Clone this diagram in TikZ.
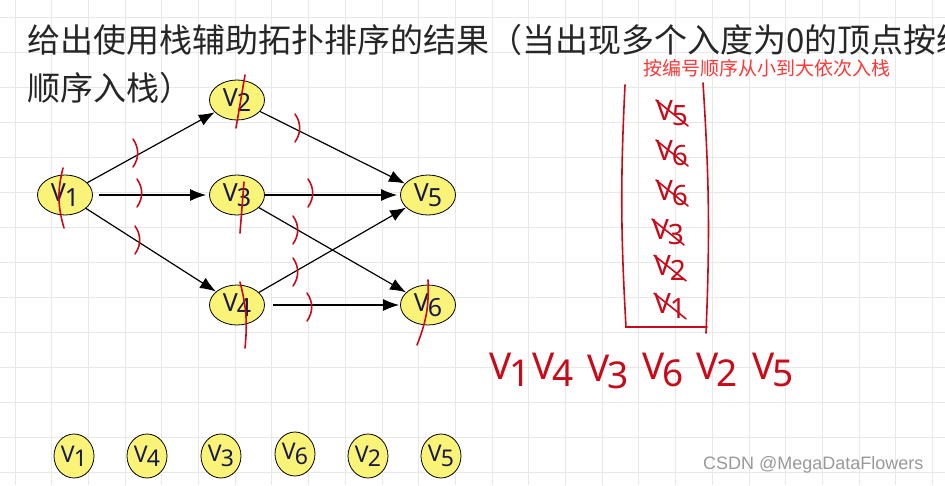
\documentclass[tikz,border=0pt]{standalone}
\usepackage{fontspec}
\setmainfont{Noto Sans}
\newfontfamily\cjk{Noto Sans CJK SC}
\newfontfamily\wmfont{Liberation Sans}
\usetikzlibrary{arrows.meta,shapes.geometric}
\definecolor{gridc}{RGB}{232,232,232}
\definecolor{nodefill}{RGB}{249,243,120}
\definecolor{navy}{RGB}{25,25,75}
\definecolor{pen}{RGB}{200,10,25}
\definecolor{capred}{RGB}{255,55,55}
\newcommand\vlab[1]{V\kern-0.04em\raisebox{-0.35ex}{#1}}
\newcommand\tk[2]{\draw[redpen] (#1-2,#2-14) to[bend left=35] (#1-2,#2+14);}
\begin{document}
\begin{tikzpicture}[x=1pt,y=-1pt,
  vnode/.style={ellipse,draw=black,line width=0.8pt,fill=nodefill,inner sep=0pt,
    minimum width=55pt,minimum height=40pt,text=navy,font=\fontsize{25}{25}\selectfont},
  bnode/.style={vnode,minimum width=40pt,minimum height=44pt,font=\fontsize{23}{23}\selectfont},
  arr/.style={draw=black,line width=1.2pt,-{Latex[length=16pt,width=12pt]}},
  redpen/.style={draw=pen,line width=1.6pt,line cap=round},
  stackitem/.style={text=pen,font=\fontsize{28}{28}\selectfont,inner sep=0pt},
  resitem/.style={text=pen,font=\fontsize{37}{37}\selectfont,inner sep=0pt}]
\useasboundingbox (0,0) rectangle (945,485);
\begin{scope}
\clip (0,0) rectangle (945,485);
\fill[white] (0,0) rectangle (945,485);
\foreach \i in {0,...,25} \draw[gridc,line width=1pt] (15+36.7*\i,0) -- (15+36.7*\i,485);
\foreach \j in {0,...,13} \draw[gridc,line width=1pt] (0,17+35*\j) -- (945,17+35*\j);
% title
\node[anchor=west,inner sep=0pt,font=\cjk\fontsize{33}{33}\selectfont,text=black!85] (t1) at (27,40)
  {给出使用栈辅助拓扑排序的结果（当出现多个入度为0的顶点按编};
\end{scope}
\node[anchor=west,inner sep=0pt,font=\cjk\fontsize{33}{33}\selectfont,text=black!85] (t2) at (27,88)
  {顺序入栈）};
\node[anchor=west,inner sep=0pt,font=\cjk\fontsize{19}{19}\selectfont,text=capred] (cap) at (643,68)
  {按编号顺序从小到大依次入栈};
% graph
\node[vnode] (v1) at (65,195) {\vlab{1}};
\node[vnode] (v2) at (237,100) {\vlab{2}};
\node[vnode] (v3) at (237,195) {\vlab{3}};
\node[vnode] (v4) at (237,305) {\vlab{4}};
\node[vnode] (v5) at (428,195) {\vlab{5}};
\node[vnode] (v6) at (428,305) {\vlab{6}};
\draw[arr] (v1) -- (v2);
\draw[arr,shorten <=6pt,shorten >=3pt] (v1) -- (v3);
\draw[arr] (v1) -- (v4);
\draw[arr] (v2) -- (v5);
\draw[arr,shorten >=3pt] (v3) -- (v5);
\draw[arr] (v3) -- (v6);
\draw[arr] (v4) -- (v5);
\draw[arr,shorten <=8pt,shorten >=1pt] (v4) -- (v6);
% red ticks on edges
\tk{135}{153}
\tk{139}{193}
\tk{137}{240}
\tk{297}{128}
\tk{310}{193}
\tk{295}{230}
\tk{295}{272}
\tk{309}{307}
% red strikes through nodes
\draw[redpen] (63,168) to[bend right=15] (64,228);
\draw[redpen] (245,75) -- (236,128);
\draw[redpen] (244,182) -- (240,233);
\draw[redpen] (240,282) to[bend left=10] (245,348);
\draw[redpen] (428,280) to[bend left=12] (417,345);
% stack
\draw[redpen] (625,85) to[bend right=3] (626,327) -- (707,327);
\draw[redpen] (703,83) to[bend left=3] (706,333);
\node[stackitem] (s5) at (672,113) {\vlab{5}};
\node[stackitem] (s6a) at (672,153) {\vlab{6}};
\node[stackitem] (s6b) at (672,193) {\vlab{6}};
\node[stackitem] (s3) at (668,232) {\vlab{3}};
\node[stackitem] (s2) at (670,268) {\vlab{2}};
\node[stackitem] (s1) at (670,306) {\vlab{1}};
\draw[redpen] (s5.north west) -- (s5.south east);
\draw[redpen] (s6a.north west) -- (s6a.south east);
\draw[redpen] (s6b.north west) -- (s6b.south east);
\draw[redpen] (s3.north west) -- (s3.south east);
\draw[redpen] (s2.north west) -- (s2.south east);
\draw[redpen] (s1.north west) -- (s1.south east);
% result sequence
\node[resitem] (r1) at (510,370) {\vlab{1}};
\node[resitem] (r4) at (553,370) {\vlab{4}};
\node[resitem] (r3) at (608,372) {\vlab{3}};
\node[resitem] (r6) at (663,370) {\vlab{6}};
\node[resitem] (r2) at (717,370) {\vlab{2}};
\node[resitem] (r5) at (773,370) {\vlab{5}};
% bottom nodes
\node[bnode] (b1) at (74,456) {\vlab{1}};
\node[bnode] (b4) at (147,456) {\vlab{4}};
\node[bnode] (b3) at (221,456) {\vlab{3}};
\node[bnode] (b6) at (295,454) {\vlab{6}};
\node[bnode] (b2) at (368,456) {\vlab{2}};
\node[bnode] (b5) at (441,456) {\vlab{5}};
% watermark
\node[anchor=west,inner sep=0pt,font=\wmfont\fontsize{18}{18}\selectfont,text=gray!80] (wm) at (703,465)
  {CSDN @MegaDataFlowers};
\end{tikzpicture}
\end{document}
